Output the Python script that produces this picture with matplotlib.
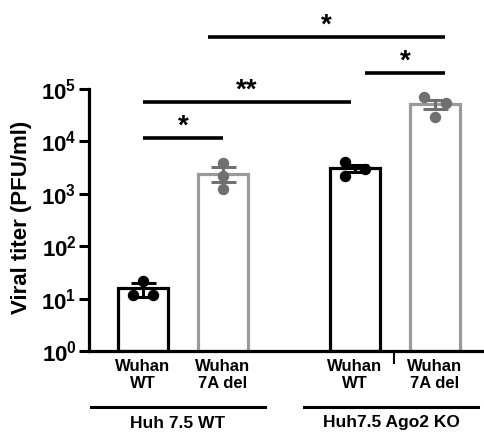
import numpy as np
import matplotlib.pyplot as plt

plt.rcParams['font.family'] = ['Liberation Sans', 'DejaVu Sans']
plt.rcParams['font.weight'] = 'bold'
plt.rcParams['mathtext.fontset'] = 'custom'
plt.rcParams['mathtext.bf'] = 'Liberation Sans:bold'
plt.rcParams['mathtext.rm'] = 'Liberation Sans:bold'

# bar positions and data
positions = [1, 2, 3.65, 4.65]
tick_labels = ["Wuhan\nWT", "Wuhan\n7A del", "Wuhan\nWT", "Wuhan\n7A del"]
group_labels = ["Huh 7.5 WT", "Huh7.5 Ago2 KO"]
points = [
    [21.7, 11.7, 11.7],
    [3870, 2180, 1240],
    [4040, 2970, 2180],
    [70300, 54100, 29200],
]
jitter = [[0, -0.13, 0.13], [0, 0, 0], [-0.13, 0.13, -0.13], [-0.14, 0.14, 0]]
sems = [4.5, 750, 420, 9500]
edge_colors = ["black", "#9a9a9a", "black", "#9a9a9a"]
dot_colors = ["black", "#707070", "black", "#707070"]

fig = plt.figure(figsize=(4.84, 4.33), dpi=100)
ax = fig.add_axes([89 / 484, 1 - 351 / 433, 1 - 89 / 484, 351 / 433])

for pos, pts, jt, sem, ec, dc in zip(positions, points, jitter, sems, edge_colors, dot_colors):
    mean = np.mean(pts)
    ax.bar(pos, mean, width=0.62, bottom=1, facecolor="white", edgecolor=ec, linewidth=2.3, zorder=2)
    ax.errorbar(pos, mean, yerr=sem, color=dc, capsize=9, capthick=2.2, elinewidth=2.2, zorder=3)
    ax.scatter(np.array(jt) + pos, pts, s=52, color=dc, zorder=4, clip_on=False)

ax.set_yscale("log")
ax.set_ylim(1, 10 ** (351 / 52.4))
ax.set_xlim(1 - 54 / 80, 1 + 341 / 80)
ax.set_yticks([1, 10, 100, 1e3, 1e4, 1e5])
ax.set_yticklabels([r"$\mathbf{10^{%d}}$" % i for i in range(6)])
ax.yaxis.set_minor_locator(plt.NullLocator())
ax.set_xticks(positions)
ax.set_xticklabels(tick_labels, fontsize=12, fontweight="bold", linespacing=1.1)
ax.tick_params(axis="x", length=0, pad=6)
ax.tick_params(axis="y", width=2.2, length=7, labelsize=16, pad=2)
ax.spines["left"].set_bounds(1, 1e5)
ax.spines["left"].set_linewidth(2.3)
ax.spines["bottom"].set_linewidth(2.3)
ax.spines["top"].set_visible(False)
ax.spines["right"].set_visible(False)
ax.set_ylabel("Viral titer (PFU/ml)", fontsize=16, fontweight="bold")
ax.yaxis.set_label_coords(-0.145, 0.38)

# small tick between the Ago2 KO bars
ax.plot([4.14, 4.14], [1, 0.6], color="black", lw=1.5, clip_on=False)

# significance bars: (x1, x2, log10 y, label)
sig = [(1.0, 2.0, 4.065, "*"), (1.0, 3.6, 4.75, "**"), (3.77, 4.78, 5.305, "*"), (1.81, 4.78, 5.99, "*")]
for x1, x2, ly, lab in sig:
    ax.plot([x1, x2], [10 ** ly, 10 ** ly], color="black", lw=2.6, solid_capstyle="butt", clip_on=False)
    ax.text((x1 + x2) / 2, 10 ** (ly + 0.08), lab, ha="center", va="baseline", fontsize=20, fontweight="bold")

# group lines and labels
groups_x = [(91, 265), (304, 478)]
for (xa, xb), lab in zip(groups_x, group_labels):
    fig.add_artist(plt.Line2D([xa / 484, xb / 484], [1 - 407 / 433] * 2, color="black", lw=2.2))
    fig.text((xa + xb) / 2 / 484, 1 - 423 / 433, lab, ha="center", va="center", fontsize=12.5, fontweight="bold")

fig.savefig("out.png", dpi=100)
